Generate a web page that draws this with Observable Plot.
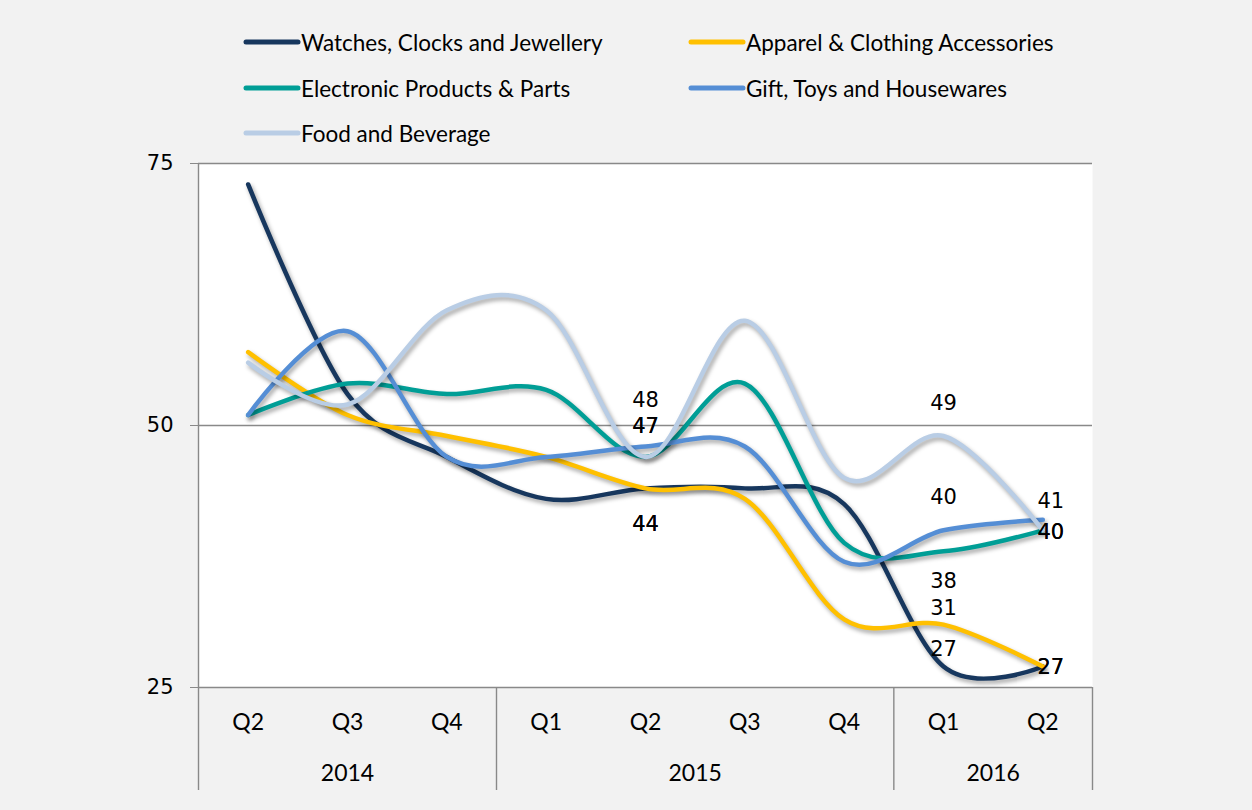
<!DOCTYPE html>
<html>
<head>
<meta charset="utf-8">
<script src="https://cdn.jsdelivr.net/npm/d3@7"></script>
<script src="https://cdn.jsdelivr.net/npm/@observablehq/plot@0.6"></script>
<style>
  html, body { margin: 0; padding: 0; background: #f2f2f2; }
  #wrap { position: relative; width: 1252px; height: 810px; overflow: hidden; }
  #chart { position: absolute; left: 0; top: 0; }
  .legend-item { position: absolute; height: 0; }
  .legend-item svg { position: absolute; left: 0; top: -5px; }
  .legend-item span { position: absolute; left: 58px; top: 0; transform: translateY(-50%);
    white-space: nowrap; font-family: "Lato", sans-serif; font-size: 22.5px; color: #000; }
  g[aria-label="line"] path { filter: drop-shadow(2px 3px 2px rgba(0,0,0,0.35)); }
  g[aria-label="y-axis tick label"] text, g[aria-label="y-axis tick label"] { font-size: 21px; font-family: "DejaVu Sans", sans-serif; }
  g.datalabel text, g.datalabel { font-size: 21px; font-family: "DejaVu Sans", sans-serif; }
</style>
</head>
<body>
<div id="wrap"><div id="chart"></div></div>
<script>
// ---- data ----
const quarters = ["Q2", "Q3", "Q4", "Q1", "Q2", "Q3", "Q4", "Q1", "Q2"];
const years    = ["2014", "2014", "2014", "2015", "2015", "2015", "2015", "2016", "2016"];

const series = [
  "Watches, Clocks and Jewellery",
  "Apparel & Clothing Accessories",
  "Electronic Products & Parts",
  "Gift, Toys and Housewares",
  "Food and Beverage"
];
const watches    = [73, 53, 47, 43, 44, 44, 42.5, 27, 27];
const apparel    = [57, 51, 49, 47, 44, 43, 31.5, 31, 27];
const electronic = [51, 54, 53, 53.4, 47, 54, 38.8, 38, 40];
const gift       = [51, 59, 47, 47, 48, 48, 37, 40, 41];
const food       = [56, 52, 61, 61, 47, 60, 45, 49, 40];
const seriesValues = [watches, apparel, electronic, gift, food];

const yTicks = [25, 50, 75];

// labelled points: [series index, quarter index]
const labelPoints = [
  [3, 4], [2, 4], [4, 4], [0, 4], [1, 4],
  [4, 7], [3, 7], [2, 7], [1, 7], [0, 7],
  [3, 8], [2, 8], [4, 8], [0, 8], [1, 8]
];

// ---- styling / placement ----
const colors = ["#17375e", "#ffc000", "#009e96", "#558ed5", "#b9cde5"];
const labelOffsets = [
  [0, -46], [0, -31], [0, -31], [0, 36], [0, 36],
  [0, -33], [0, -33], [0, 30], [0, -16], [0, -17],
  [8, -19], [8, 2], [8, 2], [8, 1], [8, 1]
];

const data = series.flatMap((s, k) => seriesValues[k].map((v, i) => ({series: s, i, value: v})));
const idx = quarters.map((q, i) => i);
const yearNames = [...new Set(years)];
const yearCenters = yearNames.map(y => ({year: y, x: d3.mean(idx.filter(i => years[i] === y))}));
const separators = [-0.5, ...idx.filter(i => i > 0 && years[i] !== years[i - 1]).map(i => i - 0.5), quarters.length - 0.5];

const labelMarks = labelPoints.map(([s, i], k) => Plot.text([{x: i, y: seriesValues[s][i]}], {
  x: "x", y: "y", text: d => d3.format(".0f")(d.y),
  dx: labelOffsets[k][0], dy: labelOffsets[k][1], className: "datalabel",
  fontSize: 21, fontFamily: "DejaVu Sans", fill: "#000", lineAnchor: "middle"
}));

const chart = Plot.plot({
  width: 1252,
  height: 810,
  marginLeft: 198,
  marginRight: 160,
  marginTop: 163,
  marginBottom: 123,
  style: {background: "transparent", fontFamily: "DejaVu Sans", fontSize: "21px", color: "#000"},
  x: {type: "linear", domain: [-0.5, quarters.length - 0.5]},
  y: {domain: [25, 75]},
  color: {domain: series, range: colors},
  marks: [
    Plot.frame({fill: "white", stroke: null}),
    Plot.ruleY(yTicks, {stroke: "#898989", strokeWidth: 1.4}),
    Plot.ruleX([-0.5], {stroke: "#898989", strokeWidth: 1.4}),
    Plot.axisY({ticks: yTicks, tickSize: 8, tickPadding: 17, stroke: "#898989", fill: "#000",
      fontSize: 21, fontFamily: "DejaVu Sans", label: null}),
    Plot.axisX({ticks: separators, tickSize: 103, tickFormat: () => "", stroke: "#898989", strokeWidth: 1.4, label: null}),
    Plot.text(idx, {x: d => d, text: d => quarters[d], frameAnchor: "bottom", dy: 35,
      lineAnchor: "middle", fontSize: 23, fontFamily: "Lato, sans-serif"}),
    Plot.text(yearCenters, {x: "x", text: "year", frameAnchor: "bottom", dy: 86,
      lineAnchor: "middle", fontSize: 23, fontFamily: "Lato, sans-serif"}),
    Plot.line(data, {x: "i", y: "value", z: "series", stroke: "series", strokeWidth: 4.5,
      strokeLinecap: "round", strokeLinejoin: "round", curve: "cardinal", tension: 0}),
    ...labelMarks
  ]
});
document.getElementById("chart").appendChild(chart);

// legend
const wrap = document.getElementById("wrap");
series.forEach((s, k) => {
  const col = k % 2, row = Math.floor(k / 2);
  const item = document.createElement("div");
  item.className = "legend-item";
  item.style.left = (243 + col * 445) + "px";
  item.style.top = (42 + row * 45.5) + "px";
  item.innerHTML = `<svg width="60" height="10"><line x1="3" y1="5" x2="55" y2="5" stroke="${colors[k]}" stroke-width="5" stroke-linecap="round"/></svg><span>${s.replace(/&/g, "&amp;")}</span>`;
  wrap.appendChild(item);
});
</script>
</body>
</html>
